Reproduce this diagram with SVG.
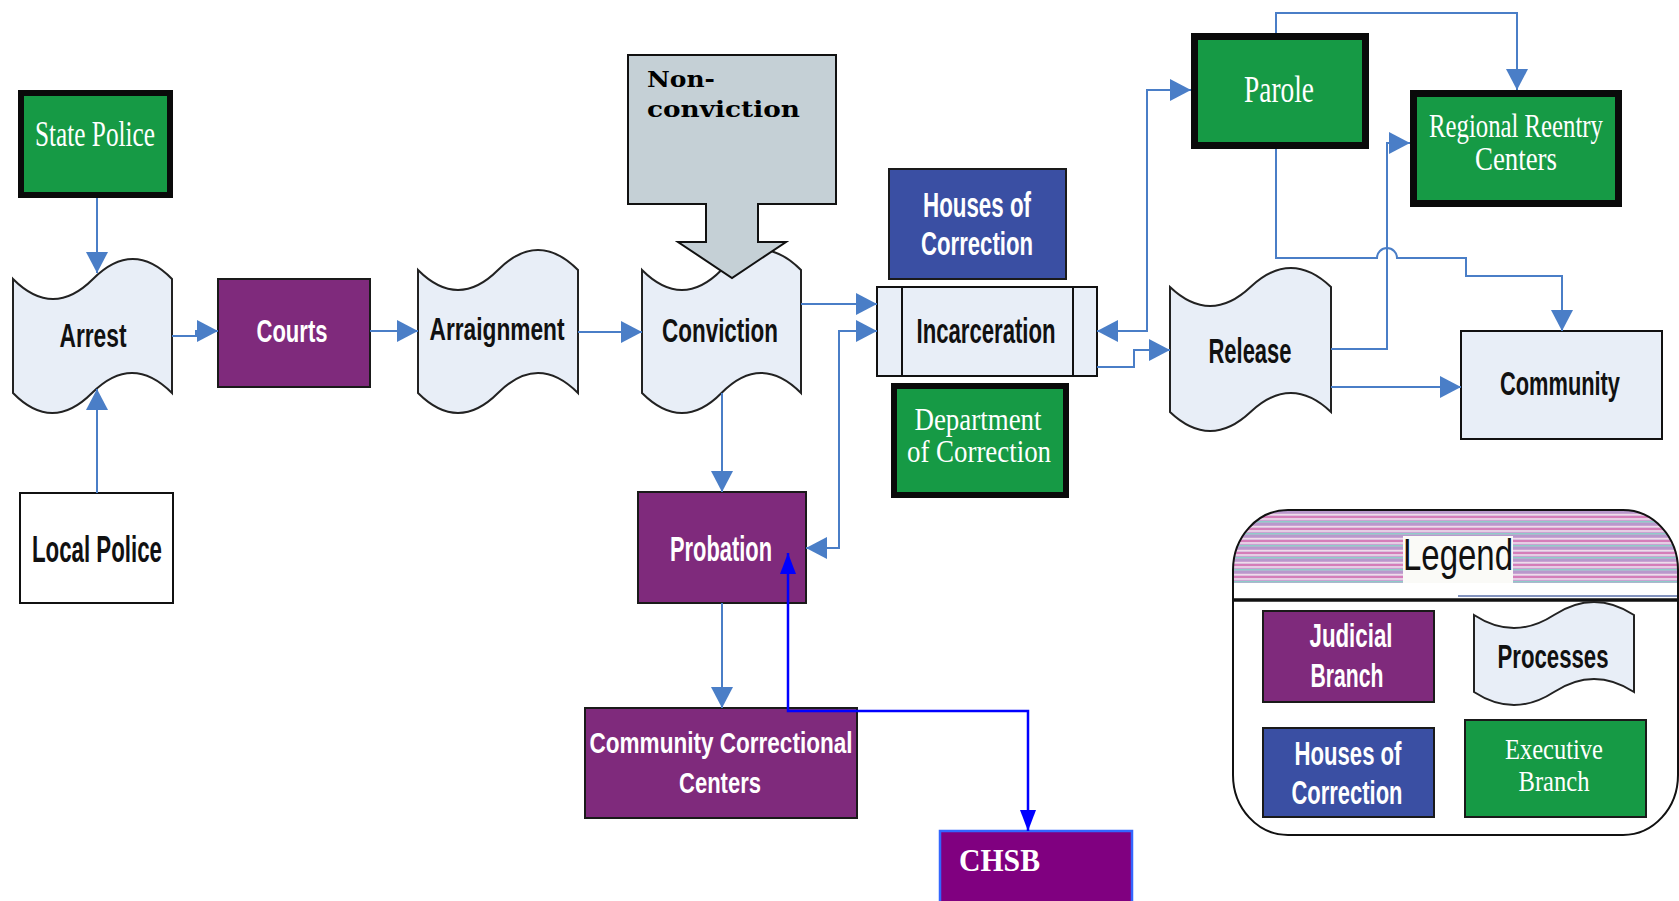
<svg xmlns="http://www.w3.org/2000/svg" width="1679" height="901" viewBox="0 0 1679 901">
<style>
.tape{fill:#E8EEF7;stroke:#222;stroke-width:2}
.light{fill:#E8EEF7;stroke:#111;stroke-width:2}
.purple{fill:#7F2A7C;stroke:#1a1a1a;stroke-width:2}
.blue{fill:#3A4FA3;stroke:#1a1a1a;stroke-width:2}
.green{fill:#169A45;stroke:#0a0a0a;stroke-width:7}
.sb{font-family:"Liberation Sans",Arial,sans-serif;font-weight:bold;text-anchor:middle}
.dk{fill:#111}
.wt{fill:#fff}
.sr{font-family:"Liberation Serif","Times New Roman",serif;fill:#fff;text-anchor:middle}
.nc{font-family:"DejaVu Serif",serif;font-weight:bold;font-size:22px;fill:#000}
.conn{fill:none;stroke:#4A7EC7;stroke-width:2}
.bconn{fill:none;stroke:#0000FF;stroke-width:2.5}
</style>
<defs>
<marker id="ah" markerUnits="userSpaceOnUse" markerWidth="22" markerHeight="22" refX="21" refY="11" orient="auto-start-reverse" viewBox="0 0 22 22">
<path d="M0,0 L21,11 L0,22 z" fill="#4A7EC7"/>
</marker>
<marker id="bh" markerUnits="userSpaceOnUse" markerWidth="22" markerHeight="16" refX="21" refY="8" orient="auto-start-reverse" viewBox="0 0 22 16">
<path d="M0,0 L21,8 L0,16 z" fill="#0000FF"/>
</marker>
<pattern id="stripes" patternUnits="userSpaceOnUse" width="20" height="12">
<rect width="20" height="12" fill="#C9A3D3"/>
<rect y="0" width="20" height="2" fill="#D57DB9"/>
<rect y="2" width="20" height="2" fill="#E6CDE4"/>
<rect y="5" width="20" height="1.5" fill="#8FCBC8"/>
<rect y="7" width="20" height="2" fill="#B898CC"/>
<rect y="10" width="20" height="1.5" fill="#F0DCEA"/>
</pattern>
<clipPath id="legclip"><rect x="1233" y="510" width="445" height="325" rx="55" ry="60"/></clipPath>
</defs>

<g id="state-police">
<rect class="green" x="21" y="93" width="149" height="102" style="stroke-width:6"/>
<text class="sr" x="95" y="146" font-size="35" textLength="120" lengthAdjust="spacingAndGlyphs">State Police</text>
</g>
<g id="arrest">
<path class="tape" d="M13,279 Q53,319 93,279 T172,279 L172,393 Q132,353 92,393 T13,393 Z"/>
<text class="sb dk" x="93" y="347" font-size="34" textLength="67" lengthAdjust="spacingAndGlyphs">Arrest</text>
</g>
<g id="local-police">
<rect x="20" y="493" width="153" height="110" fill="#fff" stroke="#111" stroke-width="2"/>
<text class="sb dk" x="97" y="562" font-size="36" textLength="130" lengthAdjust="spacingAndGlyphs">Local Police</text>
</g>
<g id="courts">
<rect class="purple" x="218" y="279" width="152" height="108"/>
<text class="sb wt" x="292" y="342" font-size="32" textLength="71" lengthAdjust="spacingAndGlyphs">Courts</text>
</g>
<g id="arraignment">
<path class="tape" d="M418,270 Q458,310 498,270 T578,270 L578,393 Q538,353 498,393 T418,393 Z"/>
<text class="sb dk" x="497" y="340" font-size="32" textLength="135" lengthAdjust="spacingAndGlyphs">Arraignment</text>
</g>
<g id="conviction">
<path class="tape" d="M642,270 Q682,310 721.5,270 T801,270 L801,393 Q761,353 721.5,393 T642,393 Z"/>
<text class="sb dk" x="720" y="342" font-size="34" textLength="116" lengthAdjust="spacingAndGlyphs">Conviction</text>
</g>
<g id="non-conviction">
<path d="M628,55 H836 V204 H758 V242 H786 L732,278 L678,242 H706 V204 H628 Z" fill="#C5D0D6" stroke="#111" stroke-width="2"/>
<text class="nc" x="647" y="87" textLength="68" lengthAdjust="spacingAndGlyphs">Non-</text>
<text class="nc" x="647" y="117" textLength="153" lengthAdjust="spacingAndGlyphs">conviction</text>
</g>
<g id="houses-of-correction">
<rect class="blue" x="889" y="169" width="177" height="110"/>
<text class="sb wt" x="977" y="217" font-size="35" textLength="108" lengthAdjust="spacingAndGlyphs">Houses of</text>
<text class="sb wt" x="977" y="255" font-size="33" textLength="112" lengthAdjust="spacingAndGlyphs">Correction</text>
</g>
<g id="incarceration">
<rect class="light" x="877" y="287" width="220" height="89"/>
<line x1="902" y1="287" x2="902" y2="376" stroke="#111" stroke-width="2"/>
<line x1="1073" y1="287" x2="1073" y2="376" stroke="#111" stroke-width="2"/>
<text class="sb dk" x="986" y="343" font-size="35" textLength="139" lengthAdjust="spacingAndGlyphs">Incarceration</text>
</g>
<g id="department-of-correction">
<rect class="green" x="894" y="386" width="172" height="109" style="stroke-width:6"/>
<text class="sr" x="978" y="430" font-size="31" textLength="127" lengthAdjust="spacingAndGlyphs">Department</text>
<text class="sr" x="979" y="462" font-size="31" textLength="144" lengthAdjust="spacingAndGlyphs">of Correction</text>
</g>
<g id="probation">
<rect class="purple" x="638" y="492" width="168" height="111"/>
<text class="sb wt" x="721" y="561" font-size="35" textLength="102" lengthAdjust="spacingAndGlyphs">Probation</text>
</g>
<g id="community-correctional-centers">
<rect class="purple" x="585" y="708" width="272" height="110"/>
<text class="sb wt" x="721" y="753" font-size="29" textLength="263" lengthAdjust="spacingAndGlyphs">Community Correctional</text>
<text class="sb wt" x="720" y="793" font-size="29" textLength="82" lengthAdjust="spacingAndGlyphs">Centers</text>
</g>
<g id="chsb">
<rect x="940" y="831" width="192" height="80" fill="#800080" stroke="#3366FF" stroke-width="2.5"/>
<text x="959" y="871" font-family="'Liberation Serif','Times New Roman',serif" font-weight="bold" font-size="31" fill="#fff" textLength="81" lengthAdjust="spacingAndGlyphs">CHSB</text>
</g>
<g id="parole">
<rect class="green" x="1194.5" y="36.5" width="171" height="109"/>
<text class="sr" x="1279" y="102" font-size="37" textLength="70" lengthAdjust="spacingAndGlyphs">Parole</text>
</g>
<g id="regional-reentry-centers">
<rect class="green" x="1413.5" y="93.5" width="205" height="110"/>
<text class="sr" x="1516" y="137" font-size="34" textLength="174" lengthAdjust="spacingAndGlyphs">Regional Reentry</text>
<text class="sr" x="1516" y="170" font-size="33" textLength="82" lengthAdjust="spacingAndGlyphs">Centers</text>
</g>
<g id="release">
<path class="tape" d="M1170,287 Q1210,325 1250.5,287 T1331,287 L1331,412 Q1291,374 1250.5,412 T1170,412 Z"/>
<text class="sb dk" x="1250" y="363" font-size="35" textLength="83" lengthAdjust="spacingAndGlyphs">Release</text>
</g>
<g id="community">
<rect class="light" x="1461" y="331" width="201" height="108"/>
<text class="sb dk" x="1560" y="395" font-size="33" textLength="120" lengthAdjust="spacingAndGlyphs">Community</text>
</g>

<g id="legend">
<rect x="1233" y="510" width="445" height="325" rx="55" ry="60" fill="#fff"/>
<rect x="1233" y="510" width="445" height="73" fill="url(#stripes)" clip-path="url(#legclip)"/>
<rect x="1403" y="536" width="110" height="47" fill="#FAFAF7"/>
<line x1="1458" y1="596" x2="1678" y2="596" stroke="#5A6FA8" stroke-width="1.5"/>
<line x1="1233" y1="600" x2="1678" y2="600" stroke="#111" stroke-width="3.5"/>
<rect x="1233" y="510" width="445" height="325" rx="55" ry="60" fill="none" stroke="#111" stroke-width="2"/>
<text x="1458" y="570" font-family="'Liberation Sans',Arial,sans-serif" font-size="44" fill="#111" text-anchor="middle" textLength="110" lengthAdjust="spacingAndGlyphs">Legend</text>
<g id="legend-judicial">
<rect class="purple" x="1263" y="611" width="171" height="91"/>
<text class="sb wt" x="1351" y="647" font-size="33" textLength="83" lengthAdjust="spacingAndGlyphs">Judicial</text>
<text class="sb wt" x="1347" y="687" font-size="33" textLength="73" lengthAdjust="spacingAndGlyphs">Branch</text>
</g>
<g id="legend-processes">
<path class="tape" d="M1474,615 Q1514,641 1554,615 T1634,615 L1634,692 Q1594,666 1554,692 T1474,692 Z"/>
<text class="sb dk" x="1553" y="668" font-size="33" textLength="111" lengthAdjust="spacingAndGlyphs">Processes</text>
</g>
<g id="legend-houses">
<rect class="blue" x="1263" y="728" width="171" height="89"/>
<text class="sb wt" x="1348" y="765" font-size="33" textLength="107" lengthAdjust="spacingAndGlyphs">Houses of</text>
<text class="sb wt" x="1347" y="804" font-size="33" textLength="111" lengthAdjust="spacingAndGlyphs">Correction</text>
</g>
<g id="legend-executive">
<rect x="1465" y="720" width="181" height="97" fill="#169A45" stroke="#1a1a1a" stroke-width="2"/>
<text class="sr" x="1554" y="759" font-size="29" textLength="98" lengthAdjust="spacingAndGlyphs">Executive</text>
<text class="sr" x="1554" y="791" font-size="29" textLength="71" lengthAdjust="spacingAndGlyphs">Branch</text>
</g>
</g>

<g id="connectors">
<path class="conn" d="M97,198 V273" marker-end="url(#ah)"/>
<path class="conn" d="M97,493 V389" marker-end="url(#ah)"/>
<path class="conn" d="M172,336 H196 V331 H218" marker-end="url(#ah)"/>
<path class="conn" d="M370,331 H418" marker-end="url(#ah)"/>
<path class="conn" d="M578,332 H642" marker-end="url(#ah)"/>
<path class="conn" d="M801,304 H877" marker-end="url(#ah)"/>
<path class="conn" d="M722,393 V492" marker-end="url(#ah)"/>
<path class="conn" d="M806,548 H839 V331 H877" marker-start="url(#ah)" marker-end="url(#ah)"/>
<path class="conn" d="M1097,331 H1147 V90 H1191" marker-start="url(#ah)" marker-end="url(#ah)"/>
<path class="conn" d="M1097,367 H1134 V350 H1170" marker-end="url(#ah)"/>
<path class="conn" d="M1276,33 V13 H1517 V90" marker-end="url(#ah)"/>
<path class="conn" d="M1276,149 V258 H1377 A10,10 0 0 1 1397,258 H1466 V276 H1562 V331" marker-end="url(#ah)"/>
<path class="conn" d="M1331,349 H1387 V143 H1410" marker-end="url(#ah)"/>
<path class="conn" d="M1331,387 H1461" marker-end="url(#ah)"/>
<path class="conn" d="M722,603 V708" marker-end="url(#ah)"/>
<path class="bconn" d="M788,553 V711 H1028 V831" marker-start="url(#bh)" marker-end="url(#bh)"/>
</g>
</svg>
